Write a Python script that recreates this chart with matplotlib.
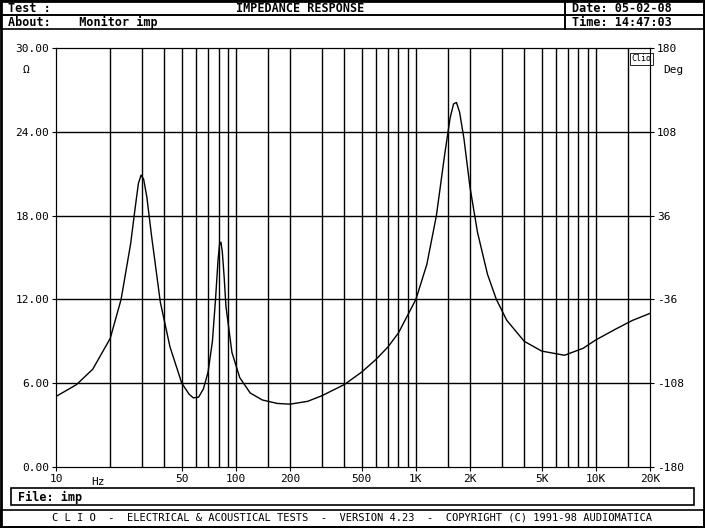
import numpy as np
import matplotlib
matplotlib.use('Agg')
import matplotlib.pyplot as plt
from matplotlib.patches import Rectangle

freq = [10, 13, 16, 20, 23, 26, 27.5, 28.7, 29.7, 30.7, 32, 34, 38, 43, 50, 55, 58, 62, 66, 70,
        74, 77, 79.5, 81, 82.5, 84, 86, 88, 95, 105, 120, 140, 170, 200, 250, 300, 400, 500,
        600, 700, 800, 1000, 1150, 1300, 1450, 1550, 1620, 1680, 1750, 1850, 2000, 2200, 2500,
        2800, 3200, 4000, 5000, 6700, 8500, 10000, 13000, 16000, 20000]
imp = [5.05, 5.9, 7.0, 9.2, 12.0, 16.0, 18.5, 20.3, 20.9, 20.6, 19.3, 16.5, 11.8, 8.6, 6.0, 5.2,
       4.95, 5.0, 5.6, 6.8, 9.0, 12.0, 14.8, 15.9, 16.1, 15.4, 13.6, 11.5, 8.2, 6.4, 5.3, 4.8,
       4.55, 4.5, 4.7, 5.1, 5.9, 6.8, 7.7, 8.6, 9.6, 12.0, 14.5, 18.0, 22.5, 25.0, 26.0, 26.1,
       25.4, 23.5, 20.0, 16.8, 13.8, 12.0, 10.5, 9.0, 8.3, 8.0, 8.5, 9.1, 9.9, 10.5, 11.0]

plt.rcParams['font.family'] = 'DejaVu Sans Mono'
fig = plt.figure(figsize=(7.05, 5.28), dpi=100)
W, H = 705, 528

def box(x0, y0, x1, y1, lw=1.2):
    fig.patches.append(Rectangle((x0 / W, 1 - y1 / H), (x1 - x0) / W, (y1 - y0) / H,
                                 transform=fig.transFigure, fill=False, lw=lw, ec='black'))

def txt(x, y, s, **kw):
    fig.text(x / W, 1 - y / H, s, va='center', fontsize=8.5, fontweight='bold', **kw)

box(1, 1, 704, 527, 2)
box(1, 1, 565, 15); box(565, 1, 704, 15)
box(1, 15, 565, 29); box(565, 15, 704, 29)
box(11, 488, 694, 505)
box(1, 510, 704, 527)
txt(8, 8, 'Test :'); txt(300, 8, 'IMPEDANCE RESPONSE', ha='center')
txt(8, 22, 'About:    Monitor imp')
txt(572, 8, 'Date: 05-02-08'); txt(572, 22, 'Time: 14:47:03')
txt(18, 497, 'File: imp')
fig.text(0.5, 1 - 518 / H, 'C L I O  -  ELECTRICAL & ACOUSTICAL TESTS  -  VERSION 4.23  -  COPYRIGHT (C) 1991-98 AUDIOMATICA',
         ha='center', va='center', fontsize=7.5)

ax = fig.add_axes([56 / W, 1 - 467 / H, 594 / W, 419 / H])
ax.set_xscale('log')
ax.set_xlim(10, 20000)
ax.set_ylim(0, 30)
grid_f = [20, 30, 40, 50, 60, 70, 80, 90, 100, 150, 200, 300, 400, 500, 600, 700, 800, 900,
          1000, 1500, 2000, 3000, 4000, 5000, 6000, 7000, 8000, 9000, 10000, 15000]
for g in grid_f:
    ax.axvline(g, color='black', lw=1)
for g in [6, 12, 18, 24]:
    ax.axhline(g, color='black', lw=1)
ax.plot(freq, imp, color='black', lw=1)
ax.set_yticks([0, 6, 12, 18, 24, 30])
ax.set_yticklabels(['0.00', '6.00', '12.00', '18.00', '24.00', '30.00'], fontsize=8)
ax.set_xticks([10, 50, 100, 200, 500, 1000, 2000, 5000, 10000, 20000])
ax.set_xticklabels(['10', '50', '100', '200', '500', '1K', '2K', '5K', '10K', '20K'], fontsize=8)
ax.minorticks_off()
ax.tick_params(length=3, pad=2)
ax.text(-0.05, 0.94, 'Ω', transform=ax.transAxes, fontsize=8, ha='center')
ax.text(0.06, -0.035, 'Hz', transform=ax.transAxes, fontsize=8, va='center')
ax2 = ax.twinx()
ax2.set_ylim(-180, 180)
ax2.set_yticks([-180, -108, -36, 36, 108, 180])
ax2.set_yticklabels(['-180', '-108', '-36', '36', '108', '180'], fontsize=8)
ax2.tick_params(length=3, pad=2)
ax.text(1.04, 0.94, 'Deg', transform=ax.transAxes, fontsize=8, ha='center')
ax.text(0.985, 0.985, 'Clio', transform=ax.transAxes, fontsize=6, ha='center', va='top',
        bbox=dict(fc='white', ec='black', lw=0.6, pad=1))

fig.savefig('out.png', dpi=100)
